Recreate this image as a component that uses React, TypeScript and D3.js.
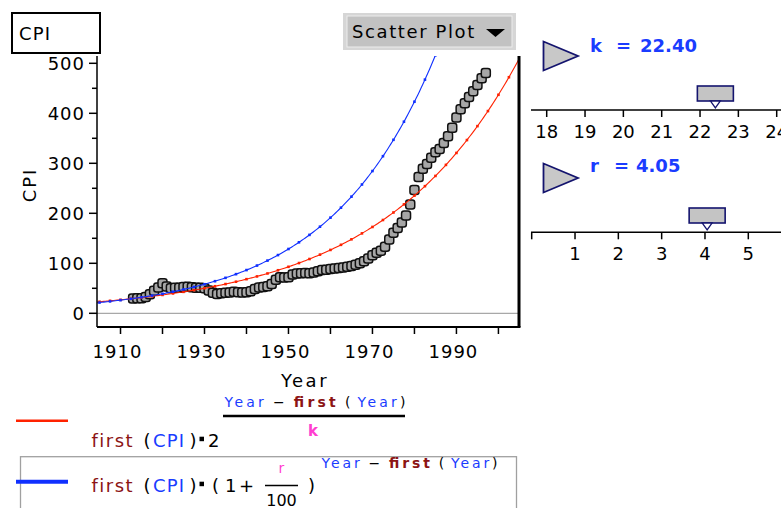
import * as d3 from 'd3';

// CPI (1967 = 100), one value a year from FIRST_YEAR on
const FIRST_YEAR = 1913;
const CPI = [
  29.6, 29.9, 30.2, 32.6, 38.3, 45.2, 51.8, 59.9, 53.6, 50.3, 51.2, 51.2, 52.4, 53.0, 52.1, 51.2, 51.2,
  50.0, 45.6, 40.9, 38.8, 40.1, 41.1, 41.5, 43.0, 42.2, 41.6, 42.0, 44.1, 48.8, 51.8, 52.7, 53.9, 58.5,
  66.9, 72.1, 71.4, 72.1, 77.8, 79.5, 80.1, 80.5, 80.2, 81.4, 84.3, 86.6, 87.3, 88.7, 89.6, 90.6, 91.7,
  92.9, 94.5, 97.2, 100.0, 104.2, 109.8, 116.3, 121.3, 125.3, 133.1, 147.7, 161.2, 170.5, 181.5, 195.4,
  217.4, 246.8, 272.4, 289.1, 298.4, 311.1, 322.2, 328.4, 340.4, 354.3, 371.3, 391.4, 408.0, 420.3,
  432.7, 444.0, 456.5, 469.9, 480.8,
];
const YEARS = d3.range(FIRST_YEAR, FIRST_YEAR + CPI.length);

// slider values
const K = 22.4;
const R = 4.05;

const Y_TICKS = [0, 50, 100, 150, 200, 250, 300, 350, 400, 450, 500];
const Y_LABELS = [0, 100, 200, 300, 400, 500];
const X_TICKS = [1910, 1920, 1930, 1940, 1950, 1960, 1970, 1980, 1990, 2000];
const X_LABELS = [1910, 1930, 1950, 1970, 1990];
const K_TICKS = [18, 19, 20, 21, 22, 23, 24];
const R_TICKS = [0, 1, 2, 3, 4, 5];

const FONT = "'DejaVu Sans', Verdana, sans-serif";
const BLUE_TXT = '#1a3cff';
const DARK_RED = '#8c1414';
const MAGENTA = '#ff3fd0';
const NAVY = '#14146e';

const PLOT = { left: 97, right: 519, top: 56, bottom: 327 };

export default function App() {
  const x = d3.scaleLinear().domain([1904.4, 2004.9]).range([PLOT.left, PLOT.right]);
  const y = d3.scaleLinear().domain([0, 500]).range([313.3, 63.3]);

  const first = CPI[0];
  const firstYear = YEARS[0];
  const doubling = (t: number) => first * Math.pow(2, (t - firstYear) / K);
  const compound = (t: number) => first * Math.pow(1 + R / 100, t - firstYear);

  const samples = d3.range(1904.4, 2005, 0.4);
  const dotYears = d3.range(1905, 2005, 2.5);
  const line = (f: (t: number) => number) =>
    d3
      .line<number>()
      .x((t) => x(t))
      .y((t) => y(f(t)))(samples) as string;

  const kScale = d3.scaleLinear().domain([18, 24]).range([546.7, 776.7]);
  const rScale = d3.scaleLinear().domain([0, 5]).range([531.7, 748.3]);

  const thumb = (cx: number, top: number) => (
    <g>
      <rect x={cx - 18} y={top} width={36} height={15} fill="#c4c4c4" stroke={NAVY} strokeWidth={1.6} />
      <path d={`M${cx - 5},${top + 15} L${cx + 5},${top + 15} L${cx},${top + 22} Z`} fill="#fff" stroke={NAVY} strokeWidth={1.3} />
    </g>
  );
  const play = (top: number) => (
    <path d={`M543.5,${top} L543.5,${top + 29} L578,${top + 14.5} Z`} fill="#c8c8c8" stroke={NAVY} strokeWidth={1.8} />
  );

  const formula = (baseY: number, startX: number, width: number) => (
    <text y={baseY} fontSize={14} textLength={width} lengthAdjust="spacing">
      <tspan x={startX} fill={BLUE_TXT}>Year</tspan>
      <tspan dx={6}>−</tspan>
      <tspan dx={6} fill={DARK_RED} fontWeight="bold">first</tspan>
      <tspan dx={6}>(</tspan>
      <tspan dx={4} fill={BLUE_TXT}>Year</tspan>
      <tspan>)</tspan>
    </text>
  );

  const firstCpi = (baseY: number) => (
    <g>
      <text y={baseY} fontSize={18} letterSpacing={1.5}>
        <tspan x={91.5} fill={DARK_RED}>first</tspan>
      </text>
      <text y={baseY} fontSize={18}>
        <tspan x={143.5}>(</tspan>
        <tspan x={153} fill={BLUE_TXT} letterSpacing={1.2}>CPI</tspan>
        <tspan x={189.5}>)</tspan>
      </text>
      <rect x={199.5} y={baseY - 10} width={4.5} height={4.5} fill="#000" />
    </g>
  );

  return (
    <svg width={781} height={508} style={{ position: 'absolute', left: 0, top: 0, background: '#fff' }} fontFamily={FONT}>
      <defs>
        <clipPath id="plot">
          <rect x={PLOT.left} y={PLOT.top} width={PLOT.right - PLOT.left} height={PLOT.bottom - PLOT.top} />
        </clipPath>
      </defs>

      {/* attribute box */}
      <rect x={12} y={13} width={88} height={40} fill="#fff" stroke="#000" strokeWidth={2} />
      <text x={19} y={40} fontSize={18} letterSpacing={1.2}>CPI</text>

      {/* plot type menu */}
      <rect x={343} y={13} width={173} height={37} fill="#d6d6d6" />
      <rect x={347} y={16} width={165} height={31} fill="#c2c2c2" stroke="#ececec" strokeWidth={1} />
      <text x={352} y={38} fontSize={18} letterSpacing={1.6}>Scatter Plot</text>
      <path d="M486,29 L505,29 L495.5,37 Z" fill="#000" />

      {/* zero line */}
      <line x1={PLOT.left} x2={PLOT.right} y1={y(0)} y2={y(0)} stroke="#a8a8a8" strokeWidth={1.2} />

      {/* points */}
      <g clipPath="url(#plot)">
        {CPI.map((v, i) => (
          <rect key={YEARS[i]} x={x(YEARS[i]) - 4.5} y={y(v) - 4.5} width={9} height={9} rx={2.5}
            fill="#a6a6a6" stroke="#111" strokeWidth={1.5} />
        ))}
      </g>

      {/* model curves */}
      <g clipPath="url(#plot)" fill="none">
        <path d={line(doubling)} stroke="#ff2200" strokeWidth={1.1} />
        <path d={line(compound)} stroke="#1030ff" strokeWidth={1.1} />
        {dotYears.map((t) => (
          <g key={t}>
            <rect x={x(t) - 1.3} y={y(doubling(t)) - 1.3} width={2.6} height={2.6} fill="#ff2200" />
            <rect x={x(t) - 1.3} y={y(compound(t)) - 1.3} width={2.6} height={2.6} fill="#1030ff" />
          </g>
        ))}
      </g>

      {/* axes */}
      <line x1={PLOT.left} x2={PLOT.left} y1={PLOT.top} y2={PLOT.bottom} stroke="#000" strokeWidth={1.5} />
      <line x1={PLOT.left} x2={PLOT.right + 1.5} y1={PLOT.bottom} y2={PLOT.bottom} stroke="#000" strokeWidth={2} />
      <line x1={PLOT.right} x2={PLOT.right} y1={PLOT.top} y2={PLOT.bottom} stroke="#000" strokeWidth={3} />

      {Y_TICKS.map((t) => (
        <line key={t} x1={Y_LABELS.includes(t) ? 89 : 92} x2={PLOT.left} y1={y(t)} y2={y(t)} stroke="#000" strokeWidth={1.5} />
      ))}
      {Y_LABELS.map((t) => (
        <text key={t} x={85} y={y(t) + 6.5} fontSize={18} textAnchor="end" letterSpacing={1}>{t}</text>
      ))}
      {X_TICKS.map((t) => (
        <line key={t} x1={x(t)} x2={x(t)} y1={PLOT.bottom} y2={PLOT.bottom + 7} stroke="#000" strokeWidth={1.5} />
      ))}
      {X_LABELS.map((t) => (
        <text key={t} x={x(t) - 3} y={358} fontSize={18} textAnchor="middle" letterSpacing={1}>{t}</text>
      ))}
      <text x={305} y={387} fontSize={18} textAnchor="middle" letterSpacing={2.5}>Year</text>
      <text transform="translate(36,185) rotate(-90)" fontSize={18} textAnchor="middle" letterSpacing={2}>CPI</text>

      {/* k slider */}
      {play(41.5)}
      <text y={52} fontSize={18} fontWeight="bold" fill={BLUE_TXT}>
        <tspan x={590}>k</tspan>
        <tspan x={616}>=</tspan>
        <tspan x={640}>{K.toFixed(2)}</tspan>
      </text>
      <line x1={531} x2={781} y1={110} y2={110} stroke="#000" strokeWidth={1.5} />
      {K_TICKS.map((t) => (
        <g key={t}>
          <line x1={kScale(t)} x2={kScale(t)} y1={110} y2={117} stroke="#000" strokeWidth={1.5} />
          <text x={kScale(t)} y={138} fontSize={18} textAnchor="middle">{t}</text>
        </g>
      ))}
      {thumb(kScale(K), 86)}

      {/* r slider */}
      {play(163.5)}
      <text y={172} fontSize={18} fontWeight="bold" fill={BLUE_TXT}>
        <tspan x={590}>r</tspan>
        <tspan x={614}>=</tspan>
        <tspan x={636}>{R.toFixed(2)}</tspan>
      </text>
      <line x1={531} x2={781} y1={232.3} y2={232.3} stroke="#000" strokeWidth={1.5} />
      {R_TICKS.map((t) => (
        <g key={t}>
          <line x1={rScale(t)} x2={rScale(t)} y1={232.3} y2={239.3} stroke="#000" strokeWidth={1.5} />
          {t > 0 && <text x={rScale(t)} y={260} fontSize={18} textAnchor="middle">{t}</text>}
        </g>
      ))}
      {thumb(rScale(R), 208)}

      {/* legend: doubling model */}
      <line x1={16} x2={68} y1={420.7} y2={420.7} stroke="#ff2200" strokeWidth={2.5} />
      {firstCpi(446.7)}
      <text x={208} y={446.7} fontSize={18}>2</text>
      {formula(407, 224.5, 181)}
      <line x1={223} x2={405} y1={416} y2={416} stroke="#000" strokeWidth={2.5} />
      <text x={313} y={436} fontSize={15} fill={MAGENTA} textAnchor="middle" fontWeight="bold">k</text>

      {/* legend: compound model */}
      <rect x={20.5} y={456.7} width={496} height={80} fill="none" stroke="#a0a0a0" strokeWidth={1.3} />
      <line x1={16} x2={68} y1={481.7} y2={481.7} stroke="#1030ff" strokeWidth={4} />
      {firstCpi(491.7)}
      <text y={491.7} fontSize={18}>
        <tspan x={212}>(</tspan>
        <tspan x={225}>1</tspan>
        <tspan x={239}>+</tspan>
        <tspan x={308}>)</tspan>
      </text>
      <text x={281.5} y={473} fontSize={14} fill={MAGENTA} textAnchor="middle">r</text>
      <line x1={265} x2={298} y1={485.5} y2={485.5} stroke="#000" strokeWidth={1.5} />
      <text x={281.5} y={506} fontSize={16} textAnchor="middle">100</text>
      {formula(468.3, 321.5, 176)}
    </svg>
  );
}
